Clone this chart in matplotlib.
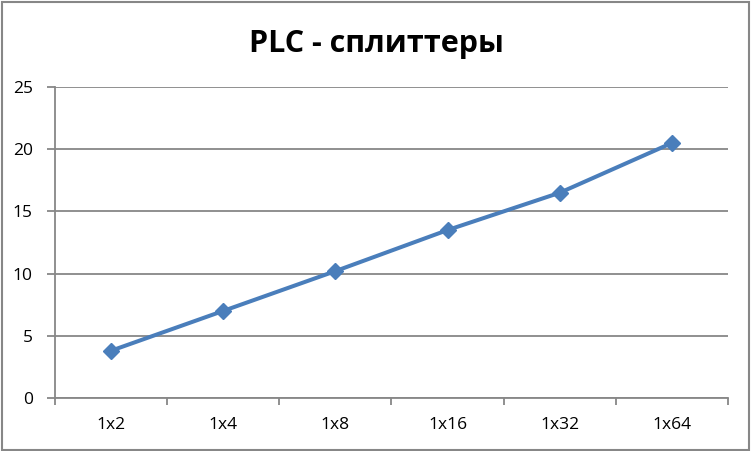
import matplotlib.pyplot as plt
from matplotlib.patches import Rectangle

categories = ['1x2', '1x4', '1x8', '1x16', '1x32', '1x64']
values = [3.8, 7.0, 10.2, 13.5, 16.5, 20.5]
yticks = [0, 5, 10, 15, 20, 25]

plt.rcParams['font.family'] = ['Open Sans', 'DejaVu Sans']

fig = plt.figure(figsize=(7.52, 4.51), dpi=100)
ax = fig.add_axes([55 / 752, 1 - 398 / 451, (728 - 55) / 752, (398 - 87) / 451])

x = list(range(len(categories)))
ax.plot(x, values, color='#4A7EBB', lw=2.9, marker='D', ms=8.5,
        markerfacecolor='#4A7EBB', markeredgecolor='#4A7EBB', zorder=3)

ax.set_xlim(-0.5, len(categories) - 0.5)
ax.set_ylim(0, 25)
ax.set_yticks(yticks)
ax.set_xticks(x)
ax.set_xticklabels(categories)
ax.set_xticks([i + 0.5 for i in range(-1, len(categories))], minor=True)
ax.grid(axis='y', color='#878787', lw=1.3)
ax.set_axisbelow(True)

for side in ['top', 'right']:
    ax.spines[side].set_visible(False)
for side in ['left', 'bottom']:
    ax.spines[side].set_color('#878787')
    ax.spines[side].set_linewidth(1.3)

ax.tick_params(axis='x', which='major', length=0, pad=14, labelsize=12.5)
ax.tick_params(axis='x', which='minor', length=5, color='#878787', width=1.3)
ax.tick_params(axis='y', length=6, color='#878787', width=1.3, labelsize=12.5, pad=10)

fig.text(0.5, 1 - 52 / 451, 'PLC - сплиттеры', ha='center', va='baseline',
         fontsize=22, fontweight='bold')

fig.patches.append(Rectangle((0.002, 0.003), 0.994, 0.993, transform=fig.transFigure,
                             fill=False, edgecolor='#878787', lw=1.5))

fig.savefig('out.png', dpi=100)
